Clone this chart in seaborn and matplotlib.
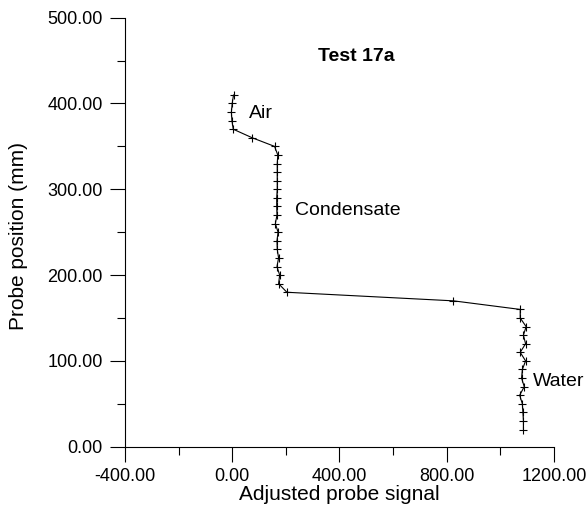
import matplotlib
matplotlib.use("Agg")
import matplotlib.pyplot as plt
import seaborn as sns
import pandas as pd
from matplotlib.ticker import MultipleLocator, FormatStrFormatter

position_mm = [410, 400, 390, 380, 370, 360, 350, 340, 330, 320, 310, 300, 290, 280,
               270, 260, 250, 240, 230, 220, 210, 200, 190, 180, 170, 160, 150, 140,
               130, 120, 110, 100, 90, 80, 70, 60, 50, 40, 30, 20]
signal = [5, 0, -3, -1, 4, 75, 158, 170, 168, 168, 168, 168, 166, 166,
          167, 161, 171, 167, 168, 173, 167, 177, 173, 204, 825, 1074, 1074, 1096,
          1086, 1094, 1074, 1094, 1082, 1079, 1089, 1072, 1082, 1084, 1086, 1086]

x_ticks = [-400, 0, 400, 800, 1200]
y_ticks = [0, 100, 200, 300, 400, 500]

df = pd.DataFrame({"signal": signal, "position": position_mm})

sns.set_theme(style="white")
plt.rcParams["font.family"] = ["Liberation Sans", "DejaVu Sans"]
plt.rcParams["text.color"] = "black"

fig = plt.figure(figsize=(5.87, 5.14), dpi=100)
ax = fig.add_axes([0.2128, 0.1309, 0.7310, 0.8347])

sns.lineplot(data=df, x="signal", y="position", sort=False, estimator=None,
             color="black", linewidth=0.8, marker="+", markersize=6,
             markeredgewidth=0.8, markeredgecolor="black", ax=ax)

ax.set_xlim(-400, 1200)
ax.set_ylim(0, 500)
ax.set_xticks(x_ticks)
ax.set_yticks(y_ticks)
ax.xaxis.set_minor_locator(MultipleLocator(200))
ax.yaxis.set_minor_locator(MultipleLocator(50))
ax.xaxis.set_major_formatter(FormatStrFormatter("%.2f"))
ax.yaxis.set_major_formatter(FormatStrFormatter("%.2f"))

ax.tick_params(which="major", direction="out", length=11, width=0.8, color="black",
               labelsize=13, labelcolor="black", bottom=True, left=True, pad=5)
ax.tick_params(axis="x", which="major", pad=4)
ax.tick_params(which="minor", direction="out", length=5.5, width=0.8, color="black",
               bottom=True, left=True)

for s in ["top", "right"]:
    ax.spines[s].set_visible(False)
for s in ["left", "bottom"]:
    ax.spines[s].set_color("black")
    ax.spines[s].set_linewidth(0.8)

ax.set_xlabel("Adjusted probe signal", fontsize=15, color="black", labelpad=0)
ax.set_ylabel("Probe position (mm)", fontsize=15, color="black")
ax.yaxis.set_label_coords(-0.225, 0.49)

ax.text(319, 449.5, "Test 17a", fontsize=14, fontweight="bold", ha="left",
        va="baseline", color="black")
ax.text(62, 383, "Air", fontsize=14, ha="left", va="baseline", color="black")
ax.text(233, 270, "Condensate", fontsize=14, ha="left", va="baseline", color="black")
ax.text(1121, 70.7, "Water", fontsize=14, ha="left", va="baseline", color="black")

ax.set_facecolor("white")
fig.patch.set_facecolor("white")
fig.savefig("out.png", dpi=100)
